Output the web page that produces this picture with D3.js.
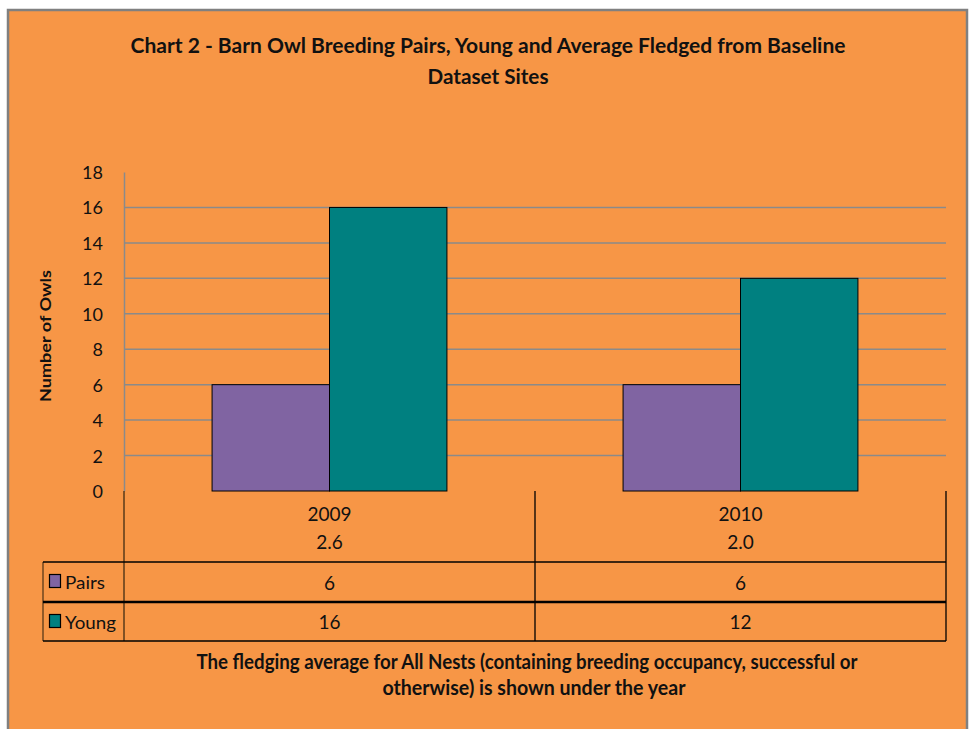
<!DOCTYPE html>
<html><head><meta charset="utf-8">
<script src="https://cdn.jsdelivr.net/npm/d3@7"></script>
<style>html,body{margin:0;padding:0;background:#fff}svg{display:block}text{font-family:Lato,"Open Sans",sans-serif;fill:#111}</style>
</head><body>
<script>
const years = ["2009", "2010"];
const averages = ["2.6", "2.0"];
const seriesNames = ["Pairs", "Young"];
const pairs = [6, 6];
const young = [16, 12];
const seriesColors = ["#8064A2", "#008080"];
const yTicks = [0, 2, 4, 6, 8, 10, 12, 14, 16, 18];
const gridTicks = [2, 4, 6, 8, 10, 12, 14, 16];
const titleLines = ["Chart 2 - Barn Owl Breeding Pairs, Young and Average Fledged from Baseline", "Dataset Sites"];
const noteLines = ["The fledging average for All Nests (containing breeding occupancy, successful or", "otherwise) is shown under the year"];

(function () {
const W = 969, H = 729;
const svg = d3.select("body").append("svg").attr("width", W).attr("height", H);

// background + border
svg.append("rect").attr("x", 8).attr("y", 10).attr("width", 959).attr("height", 730)
  .attr("fill", "#F79646").attr("stroke", "#808080").attr("stroke-width", 2.5);

const pL = 124, pR = 946, pT = 172, pB = 491;
const x0 = d3.scaleBand().domain(years).range([pL, pR]).padding(0);
const x1 = d3.scaleBand().domain(seriesNames).range([0, x0.bandwidth()]).paddingInner(0).paddingOuter(0.75);
const y = d3.scaleLinear().domain([0, 18]).range([pB, pT]);

// gridlines
svg.append("g").selectAll("line").data(gridTicks).join("line")
  .attr("x1", pL).attr("x2", pR).attr("y1", d => y(d)).attr("y2", d => y(d))
  .attr("stroke", "#8a8a8a").attr("stroke-width", 1.5);

// y axis
const yAxis = d3.axisLeft(y).tickValues(yTicks).tickSize(0).tickPadding(21);
const gy = svg.append("g").attr("transform", `translate(${pL},0)`).call(yAxis);
gy.select(".domain").attr("stroke", "#8a8a8a").attr("stroke-width", 1.5);
gy.selectAll("text").style("font-size", "18px").attr("fill", "#111").attr("dy", "0.36em");

// bars
const data = years.map((yr, i) => ({ year: yr, vals: [pairs[i], young[i]] }));
const g = svg.append("g");
data.forEach(d => {
  g.append("g").attr("transform", `translate(${x0(d.year)},0)`)
    .selectAll("rect").data(d.vals.map((v, j) => ({ s: seriesNames[j], v, c: seriesColors[j] }))).join("rect")
    .attr("x", e => x1(e.s)).attr("width", x1.bandwidth())
    .attr("y", e => y(e.v)).attr("height", e => y(0) - y(e.v))
    .attr("fill", e => e.c).attr("stroke", "#000").attr("stroke-width", 1);
});

// data table
const r1 = 562, r2 = 602, r3 = 641, tl = 43;
const tg = svg.append("g").attr("stroke", "#000");
tg.append("line").attr("x1", pL).attr("x2", pL).attr("y1", pB).attr("y2", r3).attr("stroke", "#5a3a1a").attr("stroke-width", 1.5);
tg.append("line").attr("x1", x0("2010")).attr("x2", x0("2010")).attr("y1", pB).attr("y2", r3).attr("stroke-width", 1.3);
tg.append("line").attr("x1", pR).attr("x2", pR).attr("y1", pB).attr("y2", r3).attr("stroke-width", 1.3);
tg.append("line").attr("x1", tl).attr("x2", tl).attr("y1", r1).attr("y2", r3).attr("stroke", "#5a3a1a").attr("stroke-width", 1.3);
tg.append("line").attr("x1", tl).attr("x2", pR).attr("y1", r1).attr("y2", r1).attr("stroke-width", 1.5);
tg.append("line").attr("x1", tl).attr("x2", pR).attr("y1", r2).attr("y2", r2).attr("stroke-width", 2.5);
tg.append("line").attr("x1", tl).attr("x2", pR).attr("y1", r3).attr("y2", r3).attr("stroke-width", 1.5);

// header: year + average, then row values
years.forEach((yr, i) => {
  const cx = x0(yr) + x0.bandwidth() / 2;
  svg.append("text").attr("x", cx).attr("y", 521).attr("text-anchor", "middle").style("font-size", "19px").text(yr);
  svg.append("text").attr("x", cx).attr("y", 549).attr("text-anchor", "middle").style("font-size", "19px").text(averages[i]);
  svg.append("text").attr("x", cx).attr("y", 590).attr("text-anchor", "middle").style("font-size", "19px").text(pairs[i]);
  svg.append("text").attr("x", cx).attr("y", 629).attr("text-anchor", "middle").style("font-size", "19px").text(young[i]);
});

// legend keys in table
const rowY = [r1, r2];
const legendLens = [40, 51];
seriesNames.forEach((s, j) => {
  const ry = rowY[j];
  svg.append("rect").attr("x", 49.5).attr("y", ry + 12.5).attr("width", 11).attr("height", 13)
    .attr("fill", seriesColors[j]).attr("stroke", "#000").attr("stroke-width", 1.2);
  svg.append("text").attr("x", 65).attr("y", ry + 27).attr("textLength", legendLens[j]).attr("lengthAdjust", "spacingAndGlyphs")
    .style("font-size", "18px").text(s);
});

// title
const titleLens = [715, 121];
titleLines.forEach((t, i) => {
  svg.append("text").attr("x", 488).attr("y", 53 + i * 31).attr("text-anchor", "middle")
    .attr("textLength", titleLens[i]).attr("lengthAdjust", "spacingAndGlyphs")
    .style("font-size", "21px").style("font-weight", "bold").text(t);
});

// y axis title
svg.append("text").attr("transform", "translate(51,336) rotate(-90)").attr("text-anchor", "middle")
  .attr("textLength", 132).attr("lengthAdjust", "spacingAndGlyphs")
  .style("font-size", "16px").style("font-weight", "bold").text("Number of Owls");

// footnote
const noteLens = [661, 303];
const noteX = [527, 534];
noteLines.forEach((t, i) => {
  svg.append("text").attr("x", noteX[i]).attr("y", 669 + i * 26).attr("text-anchor", "middle")
    .attr("textLength", noteLens[i]).attr("lengthAdjust", "spacingAndGlyphs")
    .style("font-size", "20px").style("font-weight", "bold").text(t);
});
})();
</script>
</body></html>
